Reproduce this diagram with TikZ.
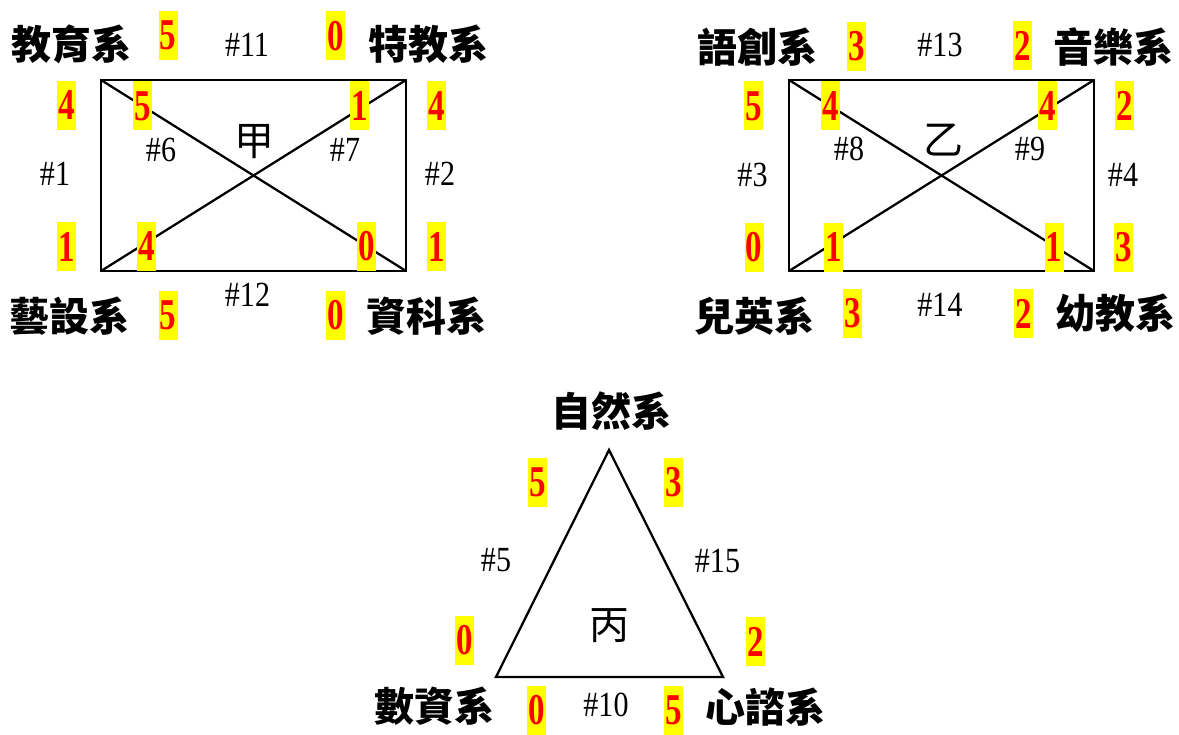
\documentclass[tikz,border=0pt]{standalone}
\usepackage{fontspec}
\usepackage{graphicx}
\setmainfont{Liberation Serif}
\newfontfamily\cjk{Noto Sans CJK TC}
\definecolor{hl}{HTML}{FFFF00}
\definecolor{nr}{HTML}{FF0000}
\tikzset{
  dept/.style={font=\cjk\bfseries\fontsize{30}{30}\selectfont, inner sep=0pt},
  big/.style={font=\cjk\fontsize{30}{30}\selectfont, inner sep=0pt},
  num/.style={fill=hl, text=nr, inner sep=0pt, minimum width=14.25pt, minimum height=36.75pt,
              font=\bfseries\fontsize{33}{33}\selectfont},
  lbl/.style={inner sep=0pt, font=\fontsize{26.5}{26.5}\selectfont},
  edge/.style={line width=1.7pt, line join=miter},
}
\newcommand{\nd}[1]{\scalebox{0.75}[1]{#1}}
\newcommand{\lb}[1]{\scalebox{0.85}[1]{#1}}
\begin{document}
\begin{tikzpicture}[x=0.75pt,y=-0.75pt]
\useasboundingbox (0,0) rectangle (1179,735);
% ---------- Panel A ----------
\coordinate (a1) at (101,80);
\coordinate (a2) at (406,80);
\coordinate (a3) at (406,271);
\coordinate (a4) at (101,271);
\draw[edge] (a1) -- (a2) -- (a3) -- (a4) -- cycle;
\draw[edge] (a1) -- (a3);
\draw[edge] (a4) -- (a2);
\node[dept] (ja) at (72,44) {教育系};
\node[dept] (jb) at (428,44) {特教系};
\node[dept] (jc) at (70,316) {藝設系};
\node[dept] (jd) at (426,316) {資科系};
\node[big] (jia) at (254,142) {甲};
\node[lbl] (l11) at (247,45) {\lb{\#11}};
\node[lbl] (l12) at (247.5,295) {\lb{\#12}};
\node[lbl] (l1) at (55,173.5) {\lb{\#1}};
\node[lbl] (l2) at (440,174) {\lb{\#2}};
\node[lbl] (l6) at (161,150) {\lb{\#6}};
\node[lbl] (l7) at (345,150) {\lb{\#7}};
\node[num] (na1) at (168,35.5) {\nd{5}};
\node[num] (na2) at (335.5,36) {\nd{0}};
\node[num] (na3) at (66.5,105.5) {\nd{4}};
\node[num] (na4) at (142.5,106) {\nd{5}};
\node[num] (na5) at (359.5,106) {\nd{1}};
\node[num] (na6) at (436.5,106) {\nd{4}};
\node[num] (na7) at (66.5,246.5) {\nd{1}};
\node[num] (na8) at (146.5,246.5) {\nd{4}};
\node[num] (na9) at (366.5,246.5) {\nd{0}};
\node[num] (na10) at (436.5,246.5) {\nd{1}};
\node[num] (na11) at (168,315.5) {\nd{5}};
\node[num] (na12) at (335.5,315.5) {\nd{0}};
% ---------- Panel B ----------
\coordinate (b1) at (789,80);
\coordinate (b2) at (1094,80);
\coordinate (b3) at (1094,271);
\coordinate (b4) at (789,271);
\draw[edge] (b1) -- (b2) -- (b3) -- (b4) -- cycle;
\draw[edge] (b1) -- (b3);
\draw[edge] (b4) -- (b2);
\node[dept] (ya) at (757,47) {語創系};
\node[dept] (yb) at (1113,47) {音樂系};
\node[dept] (yc) at (754.5,316.5) {兒英系};
\node[dept] (yd) at (1115.5,313.5) {幼教系};
\node[big] (yi) at (943,140) {乙};
\node[lbl] (l13) at (940,44.5) {\lb{\#13}};
\node[lbl] (l14) at (940,304.5) {\lb{\#14}};
\node[lbl] (l3) at (752.5,174.5) {\lb{\#3}};
\node[lbl] (l4) at (1123,174.5) {\lb{\#4}};
\node[lbl] (l8) at (849,148.5) {\lb{\#8}};
\node[lbl] (l9) at (1030,148.5) {\lb{\#9}};
\node[num] (nb1) at (856.5,46.5) {\nd{3}};
\node[num] (nb2) at (1022.5,45.5) {\nd{2}};
\node[num] (nb3) at (753.5,106) {\nd{5}};
\node[num] (nb4) at (830.5,106) {\nd{4}};
\node[num] (nb5) at (1047.5,106) {\nd{4}};
\node[num] (nb6) at (1124.5,106) {\nd{2}};
\node[num] (nb7) at (754,247) {\nd{0}};
\node[num] (nb8) at (833.5,247) {\nd{1}};
\node[num] (nb9) at (1054,247) {\nd{1}};
\node[num] (nb10) at (1123.5,247) {\nd{3}};
\node[num] (nb11) at (852.5,313) {\nd{3}};
\node[num] (nb12) at (1023.5,313.5) {\nd{2}};
% ---------- Panel C ----------
\coordinate (c1) at (609,450);
\coordinate (c2) at (723,677);
\coordinate (c3) at (496,677);
\draw[edge] (c1) -- (c2) -- (c3) -- cycle;
\node[dept] (ba) at (611,411.5) {自然系};
\node[dept] (bb) at (434,706) {數資系};
\node[dept] (bc) at (765,707.5) {心諮系};
\node[big] (bing) at (609,626) {丙};
\node[lbl] (l5) at (496,560) {\lb{\#5}};
\node[lbl] (l15) at (717.5,561) {\lb{\#15}};
\node[lbl] (l10) at (606,705) {\lb{\#10}};
\node[num] (nc1) at (537.5,482.5) {\nd{5}};
\node[num] (nc2) at (673.5,482.5) {\nd{3}};
\node[num] (nc3) at (464.5,640.5) {\nd{0}};
\node[num] (nc4) at (755.5,641.5) {\nd{2}};
\node[num] (nc5) at (536.5,710) {\nd{0}};
\node[num] (nc6) at (673.5,710) {\nd{5}};
\end{tikzpicture}
\end{document}
